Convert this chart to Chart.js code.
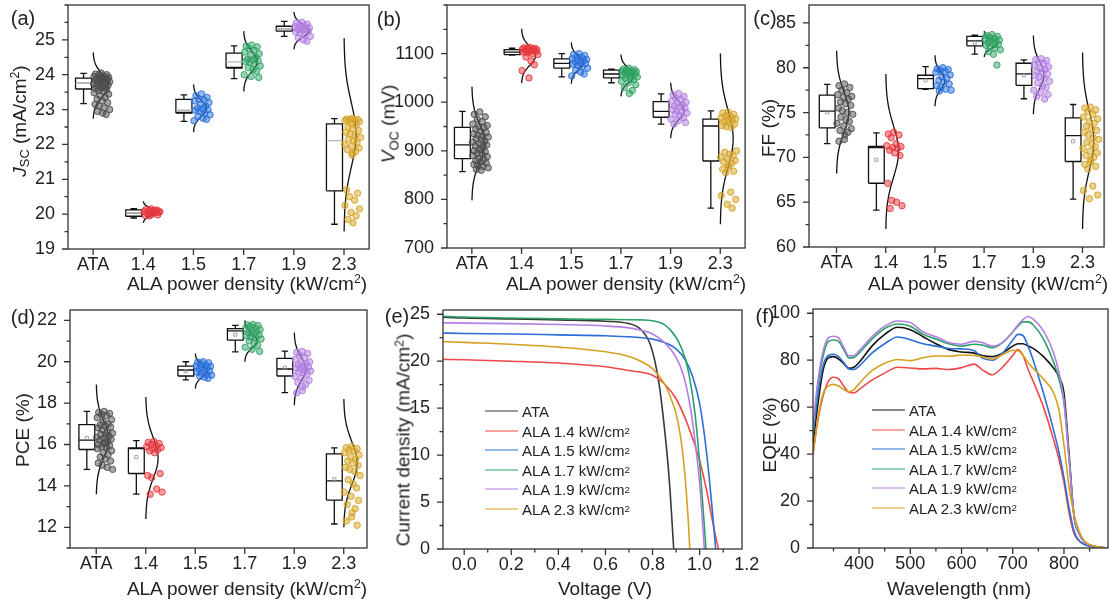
<!DOCTYPE html>
<html>
<head>
<meta charset="utf-8">
<script src="https://cdn.jsdelivr.net/npm/chart.js@4.4.1/dist/chart.umd.min.js"></script>
<style>
  html, body { margin: 0; padding: 0; background: #fff; }
  body { position: relative; width: 1109px; height: 603px; overflow: hidden;
         font-family: "Liberation Sans", Arial, sans-serif; color: #222; }
  canvas { position: absolute; }
  .t { position: absolute; white-space: nowrap; line-height: 1; transform: translate(-50%, -50%); }
  .panel { font-size: 20px; }
  .ax { font-size: 19px; }
  .rot { transform: translate(-50%, -50%) rotate(-90deg); }
  sub { font-size: 68%; vertical-align: -0.3em; line-height: 0; }
  sup { font-size: 65%; vertical-align: 0.5em; line-height: 0; }
  .lg { position: absolute; font-size: 15px; line-height: 1; white-space: nowrap; display: flex; align-items: center; transform: translateY(-50%); }
  .lg .sw { display: inline-block; width: 33px; height: 0; border-top: 1.6px solid; margin-right: 4px; }
</style>
</head>
<body>
<canvas id="ca"></canvas>
<canvas id="cb"></canvas>
<canvas id="cc"></canvas>
<canvas id="cd"></canvas>
<canvas id="ce"></canvas>
<canvas id="cf"></canvas>

<div class="t panel" style="left:23px;top:18px">(a)</div>
<div class="t panel" style="left:389px;top:19px">(b)</div>
<div class="t panel" style="left:765px;top:18px">(c)</div>
<div class="t panel" style="left:23px;top:317px">(d)</div>
<div class="t panel" style="left:397px;top:316px">(e)</div>
<div class="t panel" style="left:765px;top:316px">(f)</div>

<div class="t ax rot" style="left:19px;top:121px"><i>J</i><sub>SC</sub> (mA/cm<sup>2</sup>)</div>
<div class="t ax rot" style="left:388px;top:124px"><i>V</i><sub>OC</sub> (mV)</div>
<div class="t ax rot" style="left:768px;top:128px">FF (%)</div>
<div class="t ax rot" style="left:22px;top:430px">PCE (%)</div>
<div class="t ax rot" style="left:403px;top:440px">Current density (mA/cm<sup>2</sup>)</div>
<div class="t ax rot" style="left:769px;top:435px">EQE (%)</div>

<div class="t ax" style="left:247px;top:283px">ALA power density (kW/cm<sup>2</sup>)</div>
<div class="t ax" style="left:626px;top:283px">ALA power density (kW/cm<sup>2</sup>)</div>
<div class="t ax" style="left:988px;top:283px">ALA power density (kW/cm<sup>2</sup>)</div>
<div class="t ax" style="left:247px;top:588px">ALA power density (kW/cm<sup>2</sup>)</div>
<div class="t ax" style="left:605px;top:588px">Voltage (V)</div>
<div class="t ax" style="left:959px;top:588px">Wavelength (nm)</div>

<div id="legE"></div>
<div id="legF"></div>

<script>
// ---------- data ----------
const cats = ['ATA', '1.4', '1.5', '1.7', '1.9', '2.3'];
const catColors = ['#4d4d4d', '#e8383d', '#2a6fdb', '#2fa363', '#b07ee0', '#d6a424'];

// (a) Jsc
const jscLo   = [23.17, 19.89, 22.66, 23.89, 25.10, 19.71];
const jscQ1   = [23.59, 19.94, 22.90, 24.19, 25.25, 20.67];
const jscMed  = [23.75, 20.04, 22.92, 24.21, 25.32, 22.59];
const jscQ3   = [23.90, 20.12, 23.29, 24.62, 25.39, 22.59];
const jscHi   = [24.04, 20.16, 23.42, 24.83, 25.53, 22.74];
const jscMean = [23.75, 20.04, 22.98, 24.37, 25.32, 22.11];
const jscCurveLo = [22.74, 19.75, 22.35, 23.52, 24.73, 19.5];
const jscCurveHi = [24.64, 20.37, 23.72, 25.25, 25.8, 25.05];
const jscCurveW  = [0.31, 0.27, 0.26, 0.27, 0.31, 0.24];
const jscPts = [
  [24.05,24.02,24.0,23.98,23.96,23.95,23.93,23.92,23.9,23.89,23.88,23.86,23.85,23.84,23.82,23.8,23.79,23.77,23.75,23.74,23.72,23.7,23.68,23.66,23.64,23.62,23.6,23.57,23.55,23.52,23.48,23.44,23.4,23.35,23.3,23.25,23.2,23.15,23.1,23.05,23.0,22.95,22.9,22.86],
  [20.15,20.13,20.12,20.1,20.09,20.08,20.06,20.05,20.04,20.02,20.0,19.98,19.96,19.95,20.11,20.07],
  [23.45,23.4,23.35,23.3,23.28,23.25,23.2,23.15,23.1,23.05,23.02,23.0,22.98,22.95,22.9,22.85,22.8,22.75,22.72,22.68],
  [24.85,24.82,24.8,24.75,24.7,24.65,24.6,24.55,24.5,24.45,24.42,24.4,24.38,24.35,24.3,24.25,24.2,24.15,24.1,24.0,23.95,23.92],
  [25.5,25.48,25.45,25.42,25.4,25.38,25.35,25.33,25.32,25.3,25.28,25.25,25.22,25.2,25.15,25.1,25.05,25.0,24.96],
  [22.75,22.73,22.72,22.7,22.7,22.68,22.65,22.6,22.55,22.5,22.45,22.4,22.35,22.3,22.25,22.2,22.15,22.1,22.05,22.0,21.95,21.9,21.85,21.8,21.75,21.7,20.7,20.6,20.5,20.4,20.25,20.15,20.05,19.95,19.85,19.75]
];

// (b) Voc
const vocLo  = [857, 1097, 1052, 1040, 955, 782];
const vocQ1  = [884, 1098, 1070, 1050, 969, 879];
const vocMed = [912, 1103, 1080, 1058, 981, 951];
const vocQ3  = [948, 1108, 1089, 1066, 1001, 965];
const vocHi  = [981, 1111, 1100, 1068, 1017, 982];
const vocCurveLo = [798, 1039, 1038, 1012, 926, 749];
const vocCurveHi = [1032, 1151, 1123, 1098, 1040, 1100];
const vocCurveW  = [0.26, 0.28, 0.24, 0.27, 0.27, 0.26];
const vocPts = [
  [980,975,970,965,960,955,952,950,948,945,940,938,935,932,930,928,925,922,920,918,915,912,910,908,905,902,900,898,895,892,890,888,885,882,880,877,875,872,870,868,865,862,860],
  [1113,1112,1111,1110,1110,1109,1108,1108,1107,1106,1105,1104,1103,1102,1100,1098,1093,1085,1077,1065,1050],
  [1100,1098,1096,1094,1092,1090,1088,1086,1085,1083,1081,1080,1078,1076,1073,1070,1066,1062,1058,1054],
  [1070,1068,1067,1066,1065,1064,1063,1062,1061,1060,1059,1058,1056,1055,1054,1052,1050,1048,1046,1043,1040,1036,1030,1024,1018],
  [1018,1015,1012,1008,1005,1002,1000,998,995,992,990,988,985,982,980,978,975,972,968,965,962,958,955],
  [980,978,975,972,970,968,966,964,962,960,958,955,952,950,948,900,897,893,890,887,884,880,877,874,870,866,862,858,855,815,808,800,790,782]
];

// (c) FF
const ffLo   = [71.53, 64.12, 77.6, 81.52, 76.54, 65.35];
const ffQ1   = [73.29, 67.11, 77.66, 82.45, 78.04, 69.54];
const ffMed  = [75.16, 71.1, 78.79, 83.0, 79.31, 72.43];
const ffQ3   = [76.95, 71.23, 79.16, 83.5, 80.5, 74.41];
const ffHi   = [78.15, 72.73, 80.13, 83.65, 80.88, 75.9];
const ffMean = [75.05, 69.73, 78.6, 82.8, 79.16, 71.79];
const ffCurveLo = [68.2, 62.0, 75.7, 81.2, 74.8, 62.0];
const ffCurveHi = [81.9, 79.3, 81.4, 84.1, 83.6, 81.7];
const ffCurveW  = [0.25, 0.26, 0.2, 0.27, 0.22, 0.23];
const ffPts = [
  [78.2,78.0,77.8,77.5,77.2,77.0,76.8,76.7,76.5,76.2,76.0,75.8,75.5,75.2,75.0,74.8,74.5,74.2,74.0,73.8,73.5,73.2,73.0,72.8,72.5,72.0,71.8],
  [72.8,72.6,72.5,72.2,71.5,71.3,71.2,71.1,71.0,70.8,70.5,70.2,67.1,65.2,65.0,64.6,64.3],
  [80.0,79.9,79.8,79.7,79.6,79.5,79.2,79.0,78.8,78.6,78.4,78.2,78.0,77.8,77.6,77.5,77.4],
  [83.7,83.6,83.5,83.4,83.3,83.2,83.1,83.0,82.9,82.8,82.7,82.6,82.5,82.4,82.2,82.0,81.8,81.5,80.3],
  [81.0,80.9,80.8,80.6,80.5,80.3,80.1,79.9,79.8,79.6,79.5,79.3,79.1,79.0,78.8,78.5,78.3,78.0,77.8,77.5,77.2,77.0,76.8,76.5],
  [75.6,75.5,75.3,75.1,74.8,74.5,74.3,74.0,73.8,73.5,73.2,73.0,72.8,72.5,72.2,72.0,71.7,71.5,71.2,71.0,70.7,70.5,70.2,70.0,69.7,69.5,69.2,69.0,68.7,66.8,66.3,65.8,65.4]
];

// (d) PCE
const pceLo   = [14.8, 13.6, 19.12, 20.48, 18.51, 12.16];
const pceQ1   = [15.76, 14.6, 19.31, 21.04, 19.31, 13.31];
const pceMed  = [16.21, 15.8, 19.6, 21.49, 19.65, 14.24];
const pceQ3   = [16.96, 15.84, 19.79, 21.6, 20.16, 15.55];
const pceHi   = [17.6, 16.19, 20.0, 21.76, 20.51, 15.84];
const pceMean = [16.32, 15.39, 19.55, 21.31, 19.71, 14.32];
const pceCurveLo = [13.6, 12.4, 18.7, 20.0, 17.9, 12.0];
const pceCurveHi = [18.9, 18.3, 20.4, 22.0, 21.4, 18.2];
const pceCurveW  = [0.25, 0.25, 0.25, 0.25, 0.23, 0.27];
const pcePts = [
  [17.6,17.55,17.5,17.45,17.4,17.3,17.2,17.1,17.0,16.95,16.9,16.85,16.8,16.7,16.6,16.55,16.5,16.45,16.4,16.35,16.3,16.25,16.2,16.15,16.1,16.05,16.0,15.95,15.9,15.85,15.8,15.7,15.6,15.5,15.4,15.3,15.2,15.1,15.0,14.9,14.8],
  [16.15,16.1,16.05,16.0,15.95,15.9,15.85,15.8,15.75,15.7,15.6,14.6,14.5,14.4,13.85,13.7,13.6],
  [20.0,19.98,19.95,19.9,19.85,19.8,19.78,19.75,19.7,19.65,19.6,19.55,19.5,19.45,19.4,19.35,19.3,19.25,19.2],
  [21.8,21.78,21.75,21.7,21.65,21.6,21.55,21.5,21.45,21.4,21.35,21.3,21.25,21.2,21.15,21.1,21.0,20.9,20.8,20.7,20.6,20.5],
  [20.5,20.45,20.4,20.3,20.2,20.1,20.0,19.95,19.9,19.85,19.8,19.75,19.7,19.65,19.6,19.55,19.5,19.45,19.4,19.3,19.2,19.1,19.0,18.9,18.8,18.6,18.5],
  [15.9,15.85,15.8,15.75,15.7,15.6,15.5,15.4,15.3,15.2,15.1,15.0,14.9,14.8,14.7,14.5,14.3,14.1,13.9,13.7,13.5,13.3,13.1,12.9,12.7,12.5,12.3,12.1]
];

// (e) J-V curves [V, J]
const seriesNames = ['ATA', 'ALA 1.4 kW/cm²', 'ALA 1.5 kW/cm²', 'ALA 1.7 kW/cm²', 'ALA 1.9 kW/cm²', 'ALA 2.3 kW/cm²'];
const jvColors  = ['#3a3a3a', '#f04848', '#2b6fd6', '#2aa267', '#b47de6', '#d6a11e'];
const eqeColors = ['#111111', '#f04848', '#2b6fd6', '#2aa267', '#b47de6', '#d6a11e'];
const jvATA = [[-0.1,24.7],[0,24.6],[0.2,24.5],[0.4,24.4],[0.6,24.25],[0.7,24.0],[0.74,23.6],[0.77,22.8],[0.79,21.8],[0.81,20.0],[0.83,17.2],[0.85,13.0],[0.865,9.2],[0.875,6.0],[0.885,2.0],[0.89,0]];
const jv14 = [[-0.1,20.2],[0,20.15],[0.2,20.0],[0.4,19.8],[0.6,19.4],[0.7,19.0],[0.8,18.5],[0.85,17.6],[0.9,16.0],[0.95,13.2],[1.0,9.4],[1.03,6.2],[1.05,3.6],[1.07,1.1],[1.08,0]];
const jv15 = [[-0.1,23.0],[0,22.95],[0.2,22.9],[0.4,22.8],[0.6,22.7],[0.7,22.6],[0.8,22.35],[0.85,22.0],[0.9,21.3],[0.94,20.1],[0.97,18.4],[1.0,15.5],[1.02,12.2],[1.04,7.8],[1.055,3.8],[1.068,0]];
const jv17 = [[-0.1,24.8],[0,24.7],[0.2,24.6],[0.4,24.5],[0.6,24.45],[0.75,24.4],[0.8,24.3],[0.85,23.9],[0.88,23.2],[0.91,22.1],[0.94,20.2],[0.96,17.9],[0.98,14.5],[1.0,9.2],[1.015,4.2],[1.027,0]];
const jv19 = [[-0.1,24.1],[0,24.05],[0.2,24.0],[0.4,23.9],[0.6,23.75],[0.7,23.55],[0.75,23.3],[0.8,22.9],[0.85,22.0],[0.9,20.4],[0.93,18.6],[0.96,15.2],[0.98,11.6],[1.0,7.0],[1.012,3.0],[1.02,0]];
const jv23 = [[-0.1,22.1],[0,22.0],[0.2,21.8],[0.4,21.5],[0.6,21.0],[0.7,20.5],[0.75,20.0],[0.8,19.2],[0.85,17.6],[0.88,15.9],[0.9,14.4],[0.92,11.8],[0.935,8.6],[0.945,5.5],[0.953,2.5],[0.958,0]];

// (f) EQE
const wl      = [310,320,330,340,350,360,370,380,390,400,425,450,475,500,525,550,575,600,625,640,660,680,700,710,720,730,740,760,780,790,800,810,820,830,840,860,885];
const eqeATA  = [44,62,76,81,81.5,80.5,78.5,76.5,77,79,86,91,94,93,90,87,84.5,83.5,83,82,81.5,83,86,87,87,86,85,81.5,76.5,73,66,40,13,6,2.5,0.7,0];
const eqe14   = [40,55,65,71,72.7,72,69,66.3,66,67.5,71.5,74.5,77,76.7,76.3,76.5,76,76.8,78.3,76,73.8,77,82,84.5,82,76,71,60,46,38,28,15,6,3,1.5,0.3,0];
const eqe15   = [48,66,78,82,82.5,81.5,79,76.2,76,77.5,83,87,89.9,88.7,87,86,85,84.8,84,81,80,83,88.5,91,90.5,86,80,66,50,41,30,17,7,3,1.5,0.3,0];
const eqe17   = [50,70,82,88,88.6,88,84.5,81,81.2,83,89,93.5,95.4,94.5,91,89,87,86,86.8,86.5,85.3,87.5,92,94.5,96.3,96.3,95,89,79,72,62,38,13,6,2.5,0.6,0];
const eqe19   = [52,72,84,89.5,90.2,89.5,85.5,81.9,82,84,90,94.5,96.7,96,92,90,87.5,86.8,88,87.5,86,87.5,92,95,97.3,98.6,97.5,92.5,83,75,63,38,13,6,2.5,0.6,0];
const eqe23   = [40,56,66,69,69.7,69,67.5,66.6,67.5,70,75.5,78.7,80.3,79.8,81,81.8,81.7,82.2,82,81.5,80.5,82.3,84.2,84,82,79,76.5,72,66,59,44,26,14,7,3,0.7,0];

// tick labels
const jscTicks = [19, 20, 21, 22, 23, 24, 25];
const vocTicks = [700, 800, 900, 1000, 1100];
const ffTicks  = [60, 65, 70, 75, 80, 85];
const pceTicks = [12, 14, 16, 18, 20, 22];
const voltTicks = [0, 0.2, 0.4, 0.6, 0.8, 1.0, 1.2];
const jTicks    = [0, 5, 10, 15, 20, 25];
const wlTicks   = [400, 500, 600, 700, 800];
const eqeTicks  = [0, 20, 40, 60, 80, 100];

// ---------- drawing helpers ----------
const BOX_L = -0.35, BOX_R = -0.03, CAP = 0.065;
const JIT = [0.16,0.05,0.27,0.11,0.21,0.02,0.31,0.14,0.24,0.08,0.18,0.29,0.04,0.12,0.22,0.33,0.09,0.19,0.26,0.01,0.15,0.3,0.07,0.23,0.17];
const BELL = [0.011,0.026,0.056,0.11,0.198,0.325,0.487,0.667,0.835,0.956,1,0.956,0.835,0.667,0.487,0.325,0.198,0.11,0.056,0.026,0.011];
const FONT = { family: '"Liberation Sans", Arial, sans-serif', size: 18 };
const INK = '#222';
const FRAME = '#333';

function hexA(hex, a) {
  const n = parseInt(hex.slice(1), 16);
  return 'rgba(' + (n >> 16) + ',' + ((n >> 8) & 255) + ',' + (n & 255) + ',' + a + ')';
}

function boxPath(lo, q1, med, q3, hi) {
  const p = [];
  lo.forEach((_, i) => {
    const l = i + BOX_L, r = i + BOX_R, c = (l + r) / 2;
    p.push({x: l, y: q1[i]}, {x: l, y: q3[i]}, {x: r, y: q3[i]}, {x: r, y: q1[i]}, {x: l, y: q1[i]}, {x: l, y: null},
           {x: l, y: med[i]}, {x: r, y: med[i]}, {x: r, y: null},
           {x: c, y: q3[i]}, {x: c, y: hi[i]}, {x: c, y: null},
           {x: c - CAP, y: hi[i]}, {x: c + CAP, y: hi[i]}, {x: c, y: null},
           {x: c, y: q1[i]}, {x: c, y: lo[i]}, {x: c, y: null},
           {x: c - CAP, y: lo[i]}, {x: c + CAP, y: lo[i]}, {x: c, y: null});
  });
  return p;
}

function boxDatasets(s) {
  const ds = [];
  s.pts.forEach((ys, i) => {
    ds.push({
      data: ys.map((y, k) => ({x: i + JIT[k % JIT.length], y: y})),
      showLine: false, pointRadius: 3.2, pointBorderWidth: 0.9,
      pointBackgroundColor: hexA(catColors[i], 0.5), pointBorderColor: catColors[i]
    });
  });
  if (s.meanStyle === 'rect') {
    ds.push({
      data: s.mean.map((m, i) => ({x: i + (BOX_L + BOX_R) / 2, y: m})),
      showLine: false, pointStyle: 'rect', pointRadius: 2.2, pointBorderWidth: 0.8,
      pointBorderColor: '#8a8a8a', pointBackgroundColor: 'rgba(0,0,0,0)'
    });
  } else if (s.meanStyle === 'line') {
    const p = [];
    s.mean.forEach((m, i) => p.push({x: i + BOX_L, y: m}, {x: i + BOX_R, y: m}, {x: i, y: null}));
    ds.push({data: p, showLine: true, borderColor: '#b5b5b5', borderWidth: 1.3, pointRadius: 0});
  }
  s.cLo.forEach((lo, i) => {
    const hi = s.cHi[i];
    ds.push({
      data: BELL.map((b, k) => ({x: i + s.cW[i] * b, y: lo + (hi - lo) * k / (BELL.length - 1)})),
      showLine: true, borderColor: '#111', borderWidth: 1.3, pointRadius: 0, tension: 0.4
    });
  });
  ds.push({data: boxPath(s.lo, s.q1, s.med, s.q3, s.hi), showLine: true, borderColor: '#111',
           borderWidth: 1.3, pointRadius: 0, spanGaps: false});
  return ds;
}

const framePlugin = {
  id: 'frame',
  afterDraw(chart, args, o) {
    const ctx = chart.ctx, a = chart.chartArea, x = chart.scales.x, y = chart.scales.y;
    ctx.save();
    ctx.strokeStyle = FRAME;
    ctx.lineWidth = 1.3;
    ctx.strokeRect(a.left, a.top, a.right - a.left, a.bottom - a.top);
    ctx.beginPath();
    const xt = (v, len) => { if (v < x.min - 1e-9 || v > x.max + 1e-9) return; const p = x.getPixelForValue(v); ctx.moveTo(p, a.bottom); ctx.lineTo(p, a.bottom + len); };
    const yt = (v, len) => { if (v < y.min - 1e-9 || v > y.max + 1e-9) return; const p = y.getPixelForValue(v); ctx.moveTo(a.left, p); ctx.lineTo(a.left - len, p); };
    x.ticks.forEach(t => xt(t.value, 6));
    y.ticks.forEach(t => yt(t.value, 6));
    if (o.xMinor) for (let k = Math.ceil(x.min / o.xMinor - 1e-9); k * o.xMinor <= x.max + 1e-9; k++) xt(k * o.xMinor, 3.5);
    if (o.yMinor) for (let k = Math.ceil(y.min / o.yMinor - 1e-9); k * o.yMinor <= y.max + 1e-9; k++) yt(k * o.yMinor, 3.5);
    ctx.stroke();
    ctx.restore();
  }
};

const X_H = 30;

function makeChart(id, box, area, xr, yr, xTicks, yTicks, xLabel, datasets, minor) {
  const cv = document.getElementById(id);
  cv.width = box[2]; cv.height = box[3];
  cv.style.left = box[0] + 'px'; cv.style.top = box[1] + 'px';
  const yW = area[0] - box[0];
  const pad = {
    left: 0,
    top: area[1] - box[1],
    right: box[0] + box[2] - area[2],
    bottom: box[1] + box[3] - area[3] - X_H
  };
  const zeroPad = s => { s.paddingLeft = s.paddingRight = s.paddingTop = s.paddingBottom = 0; };
  return new Chart(cv, {
    type: 'scatter',
    data: { datasets: datasets },
    options: {
      responsive: false, animation: false, events: [],
      layout: { padding: pad },
      plugins: { legend: { display: false }, tooltip: { enabled: false }, frame: minor },
      scales: {
        x: {
          type: 'linear', min: xr[0], max: xr[1],
          grid: { display: false }, border: { display: false },
          ticks: { autoSkip: false, maxRotation: 0, padding: -3, font: FONT, color: INK, callback: xLabel },
          afterBuildTicks: s => { s.ticks = xTicks.map(v => ({ value: v })); },
          afterFit: s => { s.height = X_H; zeroPad(s); }
        },
        y: {
          type: 'linear', min: yr[0], max: yr[1],
          grid: { display: false }, border: { display: false },
          ticks: { autoSkip: false, padding: 5, font: FONT, color: INK, callback: v => String(v) },
          afterBuildTicks: s => { s.ticks = yTicks.map(v => ({ value: v })); },
          afterFit: s => { s.width = yW; zeroPad(s); }
        }
      }
    },
    plugins: [framePlugin]
  });
}

const catIdx = [0, 1, 2, 3, 4, 5];
const catLabel = v => cats[Math.round(v)];

makeChart('ca', [0, 0, 374, 300], [68, 5, 370, 249], [-0.5, 5.5], [19, 26], catIdx, jscTicks, catLabel,
  boxDatasets({lo: jscLo, q1: jscQ1, med: jscMed, q3: jscQ3, hi: jscHi, mean: jscMean, meanStyle: 'line',
               cLo: jscCurveLo, cHi: jscCurveHi, cW: jscCurveW, pts: jscPts}), {yMinor: 0.5});

makeChart('cb', [376, 0, 374, 300], [447, 5, 747, 248], [-0.5, 5.5], [700, 1200], catIdx, vocTicks, catLabel,
  boxDatasets({lo: vocLo, q1: vocQ1, med: vocMed, q3: vocQ3, hi: vocHi, mean: [], meanStyle: 'none',
               cLo: vocCurveLo, cHi: vocCurveHi, cW: vocCurveW, pts: vocPts}), {yMinor: 50});

makeChart('cc', [752, 0, 357, 300], [809, 5, 1108, 247], [-0.56, 5.44], [60, 87], catIdx, ffTicks, catLabel,
  boxDatasets({lo: ffLo, q1: ffQ1, med: ffMed, q3: ffQ3, hi: ffHi, mean: ffMean, meanStyle: 'rect',
               cLo: ffCurveLo, cHi: ffCurveHi, cW: ffCurveW, pts: ffPts}), {yMinor: 2.5});

makeChart('cd', [0, 300, 372, 303], [70, 310, 367, 548], [-0.53, 5.47], [11, 22.5], catIdx, pceTicks, catLabel,
  boxDatasets({lo: pceLo, q1: pceQ1, med: pceMed, q3: pceQ3, hi: pceHi, mean: pceMean, meanStyle: 'rect',
               cLo: pceCurveLo, cHi: pceCurveHi, cW: pceCurveW, pts: pcePts}), {yMinor: 1});

const jvAll = [jvATA, jv14, jv15, jv17, jv19, jv23];
makeChart('ce', [376, 300, 392, 303], [443, 310, 742, 549], [-0.09, 1.18], [0, 25.45], voltTicks, jTicks,
  v => v.toFixed(1),
  jvAll.map((s, i) => ({
    data: s.map(p => ({x: p[0], y: p[1]})), showLine: true, pointRadius: 0,
    borderColor: jvColors[i], borderWidth: 1.6, cubicInterpolationMode: 'monotone'
  })).reverse(), {xMinor: 0.1, yMinor: 2.5});

const eqeAll = [eqeATA, eqe14, eqe15, eqe17, eqe19, eqe23];
makeChart('cf', [770, 300, 339, 303], [813, 309, 1108, 548], [310, 886], [0, 101.8], wlTicks, eqeTicks,
  v => String(v),
  eqeAll.map((s, i) => ({
    data: s.map((e, k) => ({x: wl[k], y: e})), showLine: true, pointRadius: 0,
    borderColor: eqeColors[i], borderWidth: 1.6, cubicInterpolationMode: 'monotone'
  })).reverse(), {xMinor: 50, yMinor: 10});

// legends
function legend(el, colors, x, y0) {
  seriesNames.forEach((name, i) => {
    const d = document.createElement('div');
    d.className = 'lg';
    d.style.left = x + 'px';
    d.style.top = (y0 + i * 19.5) + 'px';
    d.innerHTML = '<span class="sw" style="border-color:' + colors[i] + '"></span>' + name.replace('²', '<sup>2</sup>');
    el.appendChild(d);
  });
}
legend(document.getElementById('legE'), jvColors, 485, 411);
legend(document.getElementById('legF'), eqeColors, 872, 410);
</script>
</body>
</html>
